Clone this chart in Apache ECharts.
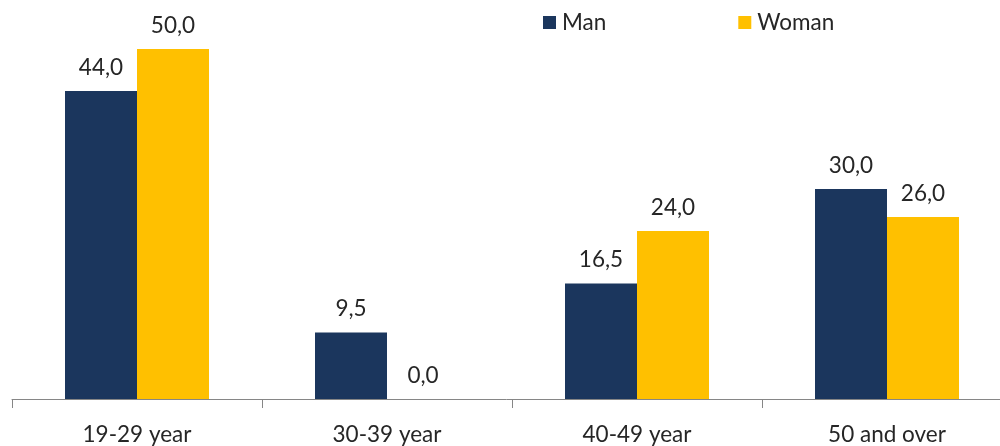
<!DOCTYPE html>
<html><head><meta charset="utf-8">
<script src="https://cdn.jsdelivr.net/npm/echarts@6/dist/echarts.min.js"></script>
<style>html,body{margin:0;padding:0;background:#fff}#c{width:1000px;height:446px}</style>
</head><body><div id="c"></div>
<script>
const categories = ['19-29 year', '30-39 year', '40-49 year', '50 and over'];
const manValues = [44.0, 9.5, 16.5, 30.0];
const womanValues = [50.0, 0.0, 24.0, 26.0];
const seriesNames = ['Man', 'Woman'];

const font = 'Lato, "Open Sans", sans-serif';
const chart = echarts.init(document.getElementById('c'));
const fmt = p => p.value.toFixed(1).replace('.', ',');
chart.setOption({
  animation: false,
  legend: {
    data: seriesNames, top: 6, left: 538, itemGap: 132, itemWidth: 13, itemHeight: 13,
    icon: 'rect', textStyle: { fontFamily: font, fontSize: 22.5, color: '#262626', padding: [0, 0, 0, 1] }
  },
  grid: { left: 12, width: 1000, top: 49, bottom: 47, outerBoundsMode: 'none', containLabel: false },
  xAxis: {
    type: 'category', data: categories,
    axisLine: { lineStyle: { color: '#868686', width: 1 } },
    axisTick: { show: true, length: 9, alignWithLabel: false, lineStyle: { color: '#868686' } },
    axisLabel: { fontFamily: font, fontSize: 22.5, color: '#262626', margin: 24 }
  },
  yAxis: { type: 'value', min: 0, max: 50, show: false, splitLine: { show: false } },
  series: [
    { name: seriesNames[0], type: 'bar', data: manValues, barWidth: 72, barGap: '0%',
      itemStyle: { color: '#1B365D' },
      label: { show: true, position: 'top', distance: 12, formatter: fmt, fontFamily: font, fontSize: 22.5, color: '#262626' } },
    { name: seriesNames[1], type: 'bar', data: womanValues, barWidth: 72, barGap: '0%',
      itemStyle: { color: '#FFC000' },
      label: { show: true, position: 'top', distance: 12, formatter: fmt, fontFamily: font, fontSize: 22.5, color: '#262626' } }
  ]
});
</script></body></html>
